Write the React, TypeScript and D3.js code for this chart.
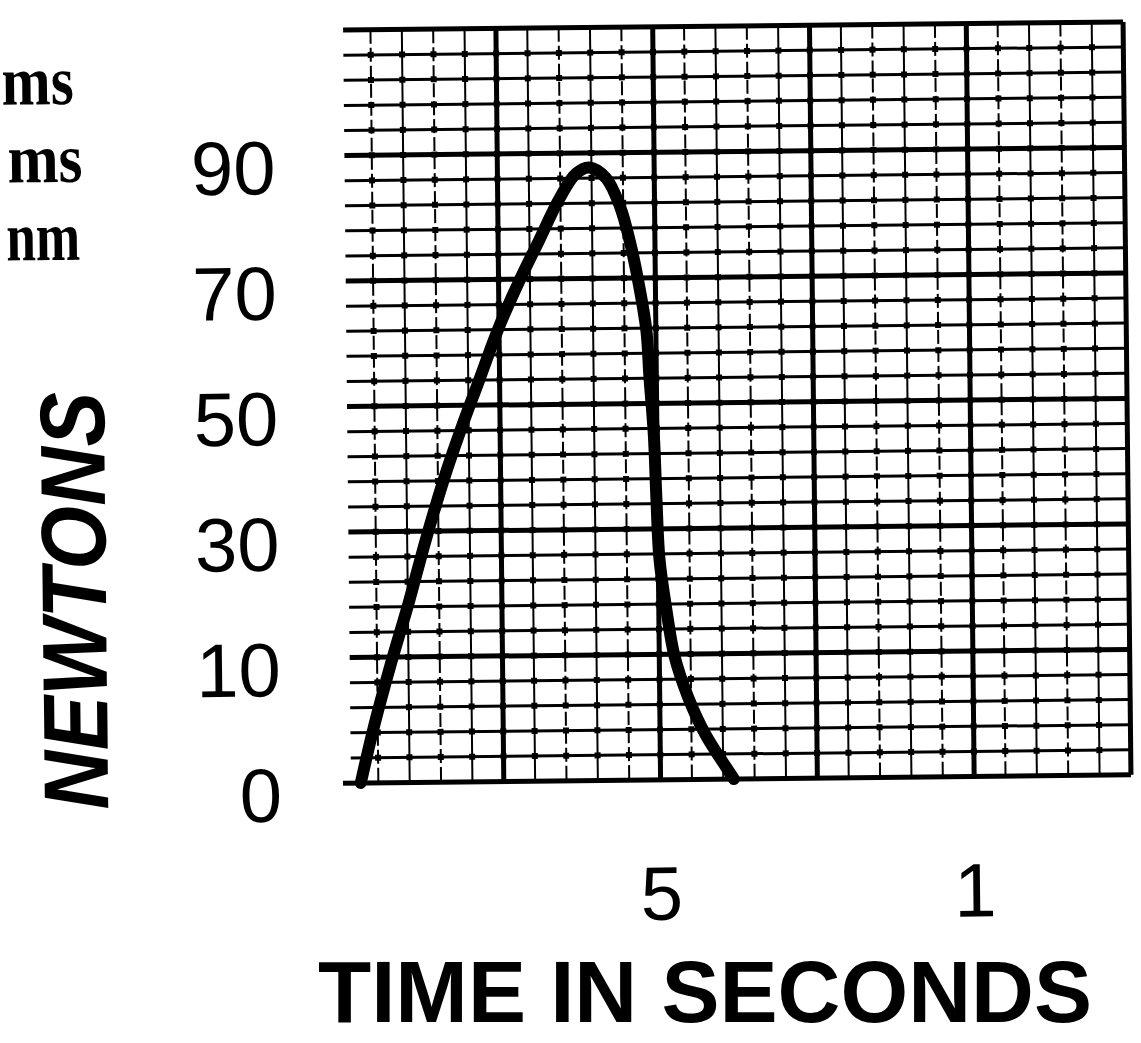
import { line, curveCatmullRom, range, scaleLinear } from "d3";

const width = 1141;
const height = 1043;

// values
const yTickValues = [0, 10, 30, 50, 70, 90];
const yTickLabels = ["0", "10", "30", "50", "70", "90"];
const xTickValues = [0.5, 1];
const xTickLabels = ["5", "1"];
const sideNotes = ["ms", "ms", "nm"];

const timeSeconds = [
  0.022, 0.043, 0.071, 0.101, 0.129, 0.16, 0.188, 0.216, 0.249, 0.282, 0.315,
  0.348, 0.375, 0.396, 0.423, 0.445, 0.461, 0.475, 0.485, 0.489, 0.495, 0.498,
  0.502, 0.512, 0.524, 0.545, 0.572, 0.604, 0.617,
];
const forceNewtons = [
  0, 4.3, 9.3, 18.5, 28.4, 38.4, 46.3, 53.6, 62.2, 69.5, 76.1, 82.7, 86.7,
  87.7, 86.0, 81.4, 75.4, 68.2, 61.5, 54.2, 45.0, 35.0, 25.1, 17.2, 9.9, 6.6,
  3.6, 1.0, 0,
];

// graph paper: 25 columns x 30 rows, heavy line every 5
const cols = 25;
const rows = 30;
const colX = scaleLinear().domain([0, cols]).range([343, 1127]);
const rowY = scaleLinear().domain([0, rows]).range([779, 26]);

const x = scaleLinear().domain([0, 1]).range([colX(0), colX(20)]);
// the printed labels sit on the heavy rows, so the scale is piecewise
const y = scaleLinear()
  .domain(yTickValues)
  .range([0, 5, 10, 15, 20, 25].map((r) => rowY(r)));

const sans = "'Liberation Sans', Arial, sans-serif";

function App() {
  const points = timeSeconds.map((t, i) => [t, forceNewtons[i]] as [number, number]);
  const path = line<[number, number]>()
    .x((d) => x(d[0]))
    .y((d) => y(d[1]))
    .curve(curveCatmullRom.alpha(0.5))(points);

  const left = colX(0) + 4;
  const right = colX(cols);

  return (
    <svg
      width={width}
      height={height}
      style={{ position: "absolute", left: 0, top: 0, background: "#fff" }}
    >
      <rect width={width} height={height} fill="#fff" />
      {/* the scan is tilted a little */}
      <g transform="rotate(-0.6 735 400)">
        {/* notes at the left edge (cut off in the scan) */}
        {sideNotes.map((s, i) => (
          <text
            key={"n" + i}
            x={[5, 10, 8][i]}
            y={97 + i * 78}
            fontFamily="'Liberation Serif', 'Times New Roman', serif"
            fontWeight="bold"
            fontSize={70}
            textLength={[72, 75, 74][i]}
            lengthAdjust="spacingAndGlyphs"
            fill="#000"
          >
            {s}
          </text>
        ))}

        {/* horizontal rules */}
        {range(rows + 1).map((r) => {
          const major = r % 5 === 0;
          return (
            <line
              key={"h" + r}
              x1={r === 0 ? colX(0) - 4 : left}
              x2={right}
              y1={rowY(r)}
              y2={rowY(r)}
              stroke="#000"
              strokeWidth={major ? 5 : 3}
            />
          );
        })}
        {/* vertical rules */}
        {range(1, cols + 1).map((c) => {
          const major = c % 5 === 0;
          return (
            <line
              key={"v" + c}
              x1={colX(c)}
              x2={colX(c)}
              y1={rowY(rows)}
              y2={rowY(0)}
              stroke="#000"
              strokeWidth={major ? 5 : 2}
              strokeDasharray={!major && c % 2 === 1 ? "14 4" : undefined}
            />
          );
        })}
        {/* little blobs where the rules cross */}
        {range(1, cols).map((c) =>
          range(1, rows).map((r) => (
            <rect
              key={"d" + c + "-" + r}
              x={colX(c) - 3}
              y={rowY(r) - 3}
              width={6}
              height={6}
              fill="#000"
            />
          ))
        )}

        {/* force curve */}
        <path
          d={path ?? ""}
          fill="none"
          stroke="#000"
          strokeWidth={12}
          strokeLinecap="round"
          strokeLinejoin="round"
        />

        {/* y tick labels */}
        {yTickValues.map((v, i) => (
          <text
            key={"yt" + v}
            x={278}
            y={y(v)}
            dy={38}
            textAnchor="end"
            fontFamily={sans}
            fontSize={76}
            fill="#000"
          >
            {yTickLabels[i]}
          </text>
        ))}

        {/* x tick labels */}
        {xTickValues.map((v, i) => (
          <text
            key={"xt" + v}
            x={x(v)}
            y={919}
            textAnchor="middle"
            fontFamily={sans}
            fontSize={76}
            fill="#000"
          >
            {xTickLabels[i]}
          </text>
        ))}

        <text
          transform="translate(104, 594) rotate(-90)"
          textAnchor="middle"
          fontFamily={sans}
          fontWeight="bold"
          fontStyle="italic"
          fontSize={92}
          textLength={418}
          lengthAdjust="spacingAndGlyphs"
          fill="#000"
        >
          NEWTONS
        </text>
      </g>

      <text
        x={318}
        y={1022}
        fontFamily={sans}
        fontWeight="bold"
        fontSize={88}
        textLength={774}
        lengthAdjust="spacingAndGlyphs"
        fill="#000"
      >
        TIME IN SECONDS
      </text>
    </svg>
  );
}

export default App;
